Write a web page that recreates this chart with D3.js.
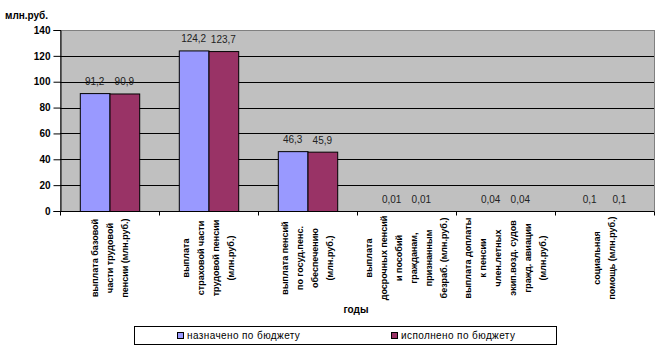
<!DOCTYPE html>
<html>
<head>
<meta charset="utf-8">
<script src="https://cdn.jsdelivr.net/npm/d3@7/dist/d3.min.js"></script>
<style>
  body { margin: 0; background: #fff; }
  text { font-family: Arial, "Liberation Sans", sans-serif; }
</style>
</head>
<body>
<svg width="660" height="353"></svg>
<script>
// данные
const categories = [
  ['выплата базовой', 'части трудовой', 'пенсии (млн.руб.)'],
  ['выплата', 'страховой части', 'трудовой пенсии', '(млн.руб.)'],
  ['выплата пенсий', 'по госуд.пенс.', 'обеспечению', '(млн.руб.)'],
  ['выплата', 'досрочных пенсий', 'и пособий', 'гражданам,', 'признанным', 'безраб. (млн.руб.)'],
  ['выплата доплаты', 'к пенсии', 'член.летных', 'экип.возд. судов', 'гражд. авиации', '(млн.руб.)'],
  ['социальная', 'помощь (млн.руб.)']
];
const series = ['назначено по бюджету', 'исполнено по бюджету'];
const planned = [91.2, 124.2, 46.3, 0.01, 0.04, 0.1];
const executed = [90.9, 123.7, 45.9, 0.01, 0.04, 0.1];
const yTicks = [0, 20, 40, 60, 80, 100, 120, 140];
const colors = ['#9999FF', '#993366'];

const fmt = v => String(v).replace('.', ',');

const svg = d3.select('svg');

const plotL = 60, plotR = 654, plotT = 30, plotB = 211;

const x = d3.scaleBand()
    .domain(d3.range(categories.length))
    .range([plotL, plotR]);

const x1 = d3.scaleBand()
    .domain(d3.range(series.length))
    .range([x.bandwidth() * 0.2, x.bandwidth() * 0.8]);

const y = d3.scaleLinear()
    .domain([0, 140])
    .range([plotB, plotT]);

// фон области построения
svg.append('rect')
    .attr('x', plotL + 0.5).attr('y', plotT + 0.5)
    .attr('width', plotR - plotL).attr('height', plotB - plotT)
    .attr('fill', '#C0C0C0')
    .attr('stroke', '#808080');

// сетка
svg.append('g')
  .selectAll('line')
  .data(yTicks.slice(1, -1))
  .join('line')
    .attr('x1', plotL).attr('x2', plotR)
    .attr('y1', d => Math.round(y(d)) + 0.5)
    .attr('y2', d => Math.round(y(d)) + 0.5)
    .attr('stroke', '#000');

// ось Y
const yAxis = svg.append('g')
    .attr('transform', `translate(${plotL + 0.5},0)`)
    .call(d3.axisLeft(y).tickValues(yTicks).tickSize(7).tickPadding(3).tickFormat(d => d));
yAxis.select('.domain').attr('stroke', '#000');
yAxis.selectAll('line').attr('stroke', '#000');
yAxis.selectAll('text')
    .attr('font-size', 10).attr('font-weight', 'bold')
    .attr('font-family', 'Arial, "Liberation Sans", sans-serif')
    .attr('fill', '#000');

// столбцы
const rows = categories.map((c, i) => [planned[i], executed[i]]);

const groups = svg.append('g')
  .selectAll('g')
  .data(rows)
  .join('g')
    .attr('transform', (d, i) => `translate(${x(i)},0)`);

groups.selectAll('rect')
  .data(d => d)
  .join('rect')
    .attr('x', (d, j) => x1(j) + 0.5)
    .attr('y', d => y(d) + 0.5)
    .attr('width', x1.bandwidth())
    .attr('height', d => Math.max(0, plotB - y(d)))
    .attr('fill', (d, j) => colors[j])
    .attr('stroke', '#000')
    .attr('stroke-width', d => d < 0.5 ? 0 : 1);

groups.selectAll('text.val')
  .data(d => d)
  .join('text')
    .attr('class', 'val')
    .attr('x', (d, j) => x1(j) + x1.bandwidth() / 2)
    .attr('y', d => y(d) - 8)
    .attr('text-anchor', 'middle')
    .attr('font-size', 10)
    .attr('fill', '#222')
    .text(d => fmt(d));

// ось X
const xAxis = svg.append('g')
    .attr('transform', `translate(0,${plotB + 0.5})`);
xAxis.append('line')
    .attr('x1', plotL).attr('x2', plotR)
    .attr('stroke', '#000');
xAxis.selectAll('line.tick')
  .data(d3.range(categories.length + 1))
  .join('line')
    .attr('class', 'tick')
    .attr('x1', i => Math.round(plotL + i * x.step()) + 0.5)
    .attr('x2', i => Math.round(plotL + i * x.step()) + 0.5)
    .attr('y1', 0).attr('y2', 4)
    .attr('stroke', '#000');

// подписи категорий (повёрнутые)
const lineH = 15;
svg.append('g')
  .selectAll('text')
  .data(categories)
  .join('text')
    .attr('transform', (d, i) => `translate(${x(i) + x.bandwidth() / 2},258) rotate(-90)`)
    .attr('text-anchor', 'middle')
    .attr('font-size', 9)
    .attr('font-weight', 'bold')
    .attr('fill', '#000')
  .selectAll('tspan')
  .data(d => d.map((t, k) => ({t, k, n: d.length})))
  .join('tspan')
    .attr('x', 0)
    .attr('y', l => (l.k - (l.n - 1) / 2) * lineH + 3)
    .text(l => l.t);

// заголовки осей
svg.append('text')
    .attr('x', 5).attr('y', 19)
    .attr('font-size', 10).attr('font-weight', 'bold')
    .text('млн.руб.');

svg.append('text')
    .attr('x', 356).attr('y', 313)
    .attr('text-anchor', 'middle')
    .attr('font-size', 10).attr('font-weight', 'bold')
    .text('годы');

// легенда
const legend = svg.append('g');
legend.append('rect')
    .attr('x', 134.5).attr('y', 326.5)
    .attr('width', 422).attr('height', 18)
    .attr('fill', '#fff').attr('stroke', '#000');

const legendX = [177, 391];
const items = legend.selectAll('g')
  .data(series)
  .join('g')
    .attr('transform', (d, i) => `translate(${legendX[i]},332)`);
items.append('rect')
    .attr('x', 0.5).attr('y', 0.5)
    .attr('width', 6).attr('height', 6)
    .attr('fill', (d, i) => colors[i])
    .attr('stroke', '#000');
items.append('text')
    .attr('x', 10).attr('y', 7)
    .attr('font-size', 10)
    .attr('letter-spacing', 0.4)
    .text(d => d);
</script>
</body>
</html>
